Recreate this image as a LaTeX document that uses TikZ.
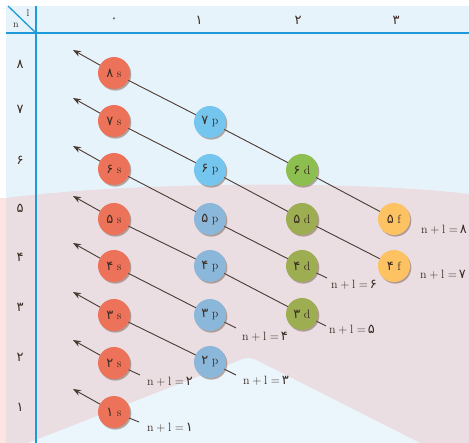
\documentclass[tikz,border=0pt]{standalone}
\usepackage{fontspec}
\newfontfamily\fa{DejaVu Sans}
\usetikzlibrary{arrows.meta,shadows,calc}
\pgfdeclarelayer{back}
\pgfdeclarelayer{mid}
\pgfsetlayers{back,mid,main}
\definecolor{bgblue}{HTML}{E7F3FB}
\definecolor{bgblue2}{HTML}{EAF5FC}
\definecolor{bgpink}{HTML}{EADEE2}
\definecolor{edgepink}{HTML}{FCE4E4}
\definecolor{rule}{HTML}{1E9AD8}
\definecolor{cS}{HTML}{EC7359}
\definecolor{cPa}{HTML}{74C6EE}
\definecolor{cPb}{HTML}{8BB8DA}
\definecolor{cDa}{HTML}{8DBE50}
\definecolor{cDb}{HTML}{9DAE52}
\definecolor{cF}{HTML}{FDC362}
\definecolor{ink}{HTML}{3A2A22}
\definecolor{linec}{HTML}{4A3A33}
\definecolor{shadowc}{HTML}{6A4A3A}
\tikzset{
  orb/.style={circle, minimum size=32pt, inner sep=0pt, text=ink,
    font=\fontsize{12}{13}\selectfont,
    drop shadow={shadow xshift=1.3pt, shadow yshift=-1.6pt, opacity=0.45, fill=shadowc}},
  sorb/.style={orb, fill=cS},
  porb/.style={orb, fill=cPa},
  pborb/.style={orb, fill=cPb},
  dorb/.style={orb, fill=cDa},
  dborb/.style={orb, fill=cDb},
  forb/.style={orb, fill=cF},
  diag/.style={draw=linec, line width=0.9pt},
  diagarrow/.style={diag, -{Stealth[length=8pt,width=6pt]}},
  lab/.style={anchor=west, inner sep=0pt, text=ink, font=\fontsize{12}{14}\selectfont},
  axis/.style={text=ink, font=\fa\fontsize{13}{14}\selectfont},
  rulel/.style={draw=rule, line width=1.6pt}
}
\newcommand{\orbtxt}[2]{{\fa\fontsize{13}{13}\selectfont #1}\hspace{3.5pt}#2}
\newcommand{\nl}[1]{$\mathrm{n}+\mathrm{l}=$\,{\fa\fontsize{13}{13}\selectfont #1}}
\begin{document}
\begin{tikzpicture}[x=1pt,y=-1pt]
\useasboundingbox (0,0) rectangle (469,443);
\begin{pgfonlayer}{back}
  \fill[white] (0,0) rectangle (469,443);
  \fill[bgblue] (6,6) rectangle (469,443);
  \fill[edgepink] (0,198) rectangle (6,443);
  \fill[bgpink] (6,198) .. controls (130,182) and (350,180) .. (469,194) -- (469,443) -- (6,443) -- cycle;
  \fill[bgblue2] (28,443) -- (238,361) .. controls (246,357) and (252,357) .. (260,362) -- (420,443) -- cycle;
  % header rules
  \draw[rulel] (6,33) -- (469,33);
  \draw[rulel] (36,6) -- (36,443);
  \draw[draw=rule, line width=1.3pt] (8,6) -- (36,33);
\end{pgfonlayer}

% corner labels
\node[text=ink, font=\fontsize{10}{11}\selectfont] (cl) at (28,13) {l};
\node[text=ink, font=\fontsize{10}{11}\selectfont] (cn) at (16,25) {n};

% column headers
\node[axis] (h0) at (114,20) {۰};
\node[axis] (h1) at (199,20) {۱};
\node[axis] (h2) at (298,20) {۲};
\node[axis] (h3) at (396,20) {۳};

% row labels
\node[axis] (r8) at (20,64) {۸};
\node[axis] (r7) at (20,109) {۷};
\node[axis] (r6) at (20,160) {۶};
\node[axis] (r5) at (20,208) {۵};
\node[axis] (r4) at (20,257) {۴};
\node[axis] (r3) at (20,307) {۳};
\node[axis] (r2) at (20,357) {۲};
\node[axis] (r1) at (20,407) {۱};

% orbitals
\node[sorb] (s8) at (114,73) {\orbtxt{۸}{s}};
\node[sorb] (s7) at (114,121) {\orbtxt{۷}{s}};
\node[sorb] (s6) at (114,169) {\orbtxt{۶}{s}};
\node[sorb] (s5) at (114,219) {\orbtxt{۵}{s}};
\node[sorb] (s4) at (114,266) {\orbtxt{۴}{s}};
\node[sorb] (s3) at (114,315) {\orbtxt{۳}{s}};
\node[sorb] (s2) at (114,363) {\orbtxt{۲}{s}};
\node[sorb] (s1) at (114,412) {\orbtxt{۱}{s}};

\node[porb] (p7) at (210,122) {\orbtxt{۷}{p}};
\node[porb] (p6) at (210,170) {\orbtxt{۶}{p}};
\node[pborb] (p5) at (210,219) {\orbtxt{۵}{p}};
\node[pborb] (p4) at (210,266) {\orbtxt{۴}{p}};
\node[pborb] (p3) at (210,315) {\orbtxt{۳}{p}};
\node[pborb] (p2) at (210,362) {\orbtxt{۲}{p}};

\node[dorb] (d6) at (302,170) {\orbtxt{۶}{d}};
\node[dborb] (d5) at (302,219) {\orbtxt{۵}{d}};
\node[dborb] (d4) at (302,266) {\orbtxt{۴}{d}};
\node[dborb] (d3) at (302,314) {\orbtxt{۳}{d}};

\node[forb] (f5) at (394,219) {\orbtxt{۵}{f}};
\node[forb] (f4) at (394,266) {\orbtxt{۴}{f}};

% arrow tips and stub ends
\foreach \k in {1,...,8}{
  \coordinate (t\k) at ($(s\k)+(-41,-23)$);
}
\coordinate (e1) at ($(s1)+(25,10)$);
\coordinate (e2) at ($(s2)+(26,12)$);
\coordinate (e3) at ($(p2)+(26,13)$);
\coordinate (e4) at ($(p3)+(26,13)$);
\coordinate (e5) at ($(d3)+(24,12)$);
\coordinate (e6) at ($(d4)+(25,12)$);

\begin{pgfonlayer}{mid}
  \draw[diagarrow] (f5.center) -- (d6.center) -- (p7.center) -- (s8.center) -- (t8);
  \draw[diagarrow] (f4.center) -- (d5.center) -- (p6.center) -- (s7.center) -- (t7);
  \draw[diagarrow] (e6) -- (d4.center) -- (p5.center) -- (s6.center) -- (t6);
  \draw[diagarrow] (e5) -- (d3.center) -- (p4.center) -- (s5.center) -- (t5);
  \draw[diagarrow] (e4) -- (p3.center) -- (s4.center) -- (t4);
  \draw[diagarrow] (e3) -- (p2.center) -- (s3.center) -- (t3);
  \draw[diagarrow] (e2) -- (s2.center) -- (t2);
  \draw[diagarrow] (e1) -- (s1.center) -- (t1);
\end{pgfonlayer}

% n+l labels
\node[lab] (L1) at (147,428) {\nl{۱}};
\node[lab] (L2) at (147,382) {\nl{۲}};
\node[lab] (L3) at (243,381) {\nl{۳}};
\node[lab] (L4) at (242,337) {\nl{۴}};
\node[lab] (L5) at (329,330) {\nl{۵}};
\node[lab] (L6) at (331,285) {\nl{۶}};
\node[lab] (L7) at (420,275) {\nl{۷}};
\node[lab] (L8) at (421,230) {\nl{۸}};
\end{tikzpicture}
\end{document}
